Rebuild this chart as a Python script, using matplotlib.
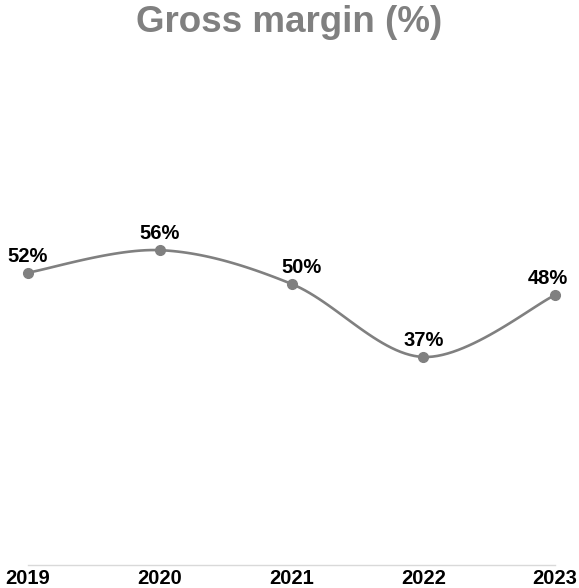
import numpy as np
import matplotlib
matplotlib.use('Agg')
import matplotlib.pyplot as plt

years = ['2019', '2020', '2021', '2022', '2023']
margin = [52, 56, 50, 37, 48]

plt.rcParams['font.family'] = ['Liberation Sans', 'DejaVu Sans']


def smooth(x, y, n=30):
    # Catmull-Rom curve through the points, like a smoothed office chart line
    x = np.asarray(x, float)
    y = np.asarray(y, float)
    px = np.concatenate([[x[0]], x, [x[-1]]])
    py = np.concatenate([[y[0]], y, [y[-1]]])
    xs, ys = [], []
    t = np.linspace(0, 1, n)
    for i in range(1, len(px) - 2):
        for p, out in ((px, xs), (py, ys)):
            p0, p1, p2, p3 = p[i - 1], p[i], p[i + 1], p[i + 2]
            out.extend(0.5 * (2 * p1 + (-p0 + p2) * t
                              + (2 * p0 - 5 * p1 + 4 * p2 - p3) * t ** 2
                              + (-p0 + 3 * p1 - 3 * p2 + p3) * t ** 3))
    return xs, ys


fig = plt.figure(figsize=(5.79, 5.88), dpi=100)
ax = fig.add_axes([28 / 579, 23 / 588, 527 / 579, 506 / 588])

x = np.arange(len(years))
sx, sy = smooth(x, margin)
ax.plot(sx, sy, color='#808080', lw=1.9, solid_capstyle='round', clip_on=False)
ax.plot(x, margin, 'o', color='#808080', ms=7, clip_on=False)

# small horizontal nudges so labels sit like in the original
label_dx = [0, 0, 7, 0, -5]
for xi, v, dx in zip(x, margin, label_dx):
    ax.annotate(f'{v}%', (xi, v), xytext=(dx, 5), textcoords='offset points',
                ha='center', va='bottom', fontsize=14.5, fontweight='bold',
                color='black')

ax.set_xlim(0, len(years) - 1)
ax.set_ylim(0, 90)
ax.set_xticks(x)
ax.set_xticklabels(years, fontsize=14.5, fontweight='bold')
ax.set_yticks([])
ax.tick_params(axis='x', length=0, pad=3)
for s in ['left', 'right', 'top']:
    ax.spines[s].set_visible(False)
ax.spines['bottom'].set_color('#d9d9d9')
ax.spines['bottom'].set_linewidth(1)

fig.text(0.5, 1 - 22 / 588, 'Gross margin (%)', ha='center', va='center',
         fontsize=26.5, fontweight='bold', color='#808080')

fig.savefig('out.png', dpi=100)
